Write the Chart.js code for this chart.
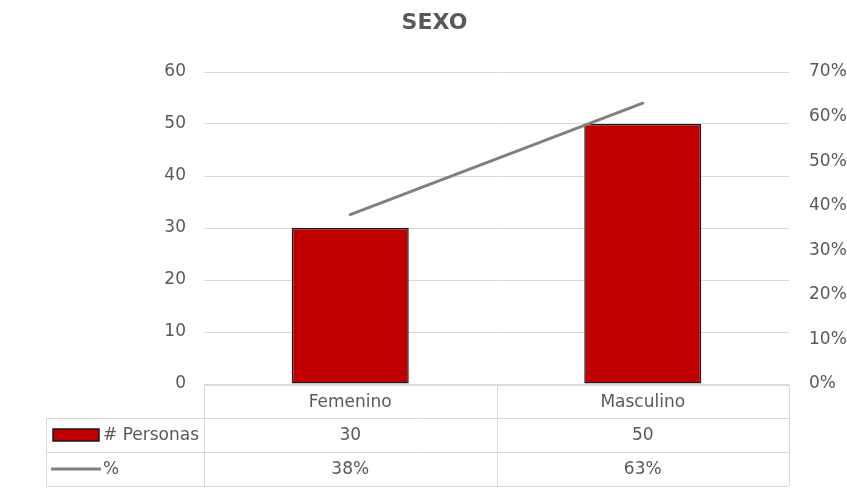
<!DOCTYPE html>
<html>
<head>
<meta charset="utf-8">
<title>SEXO</title>
<script src="https://cdn.jsdelivr.net/npm/chart.js@4/dist/chart.umd.min.js"></script>
<style>
  html, body { margin: 0; padding: 0; background: #ffffff; }
  canvas { display: block; }
</style>
</head>
<body>
<canvas id="chart" width="847" height="493"></canvas>
<script>
// Categories and series
const categories = ['Femenino', 'Masculino'];
const personas = [30, 50];          // # Personas
const porcentaje = [38, 63];        // % of total
const seriesNames = ['# Personas', '%'];

// Axis ranges
const leftMax = 60, leftStep = 10;
const rightMax = 70, rightStep = 10;

const textColor = '#595959';
const gridColor = '#d9d9d9';
const fontFamily = '"DejaVu Sans", sans-serif';
const pct = v => v + '%';

// Draws the data table under the plot, aligned to the category scale
const dataTablePlugin = {
  id: 'dataTable',
  afterDraw(chart) {
    const ctx = chart.ctx;
    const x = chart.scales.x;
    const area = chart.chartArea;
    const half = (x.getPixelForValue(1) - x.getPixelForValue(0)) / 2;
    const colEdges = [];
    for (let i = 0; i < categories.length; i++) colEdges.push(x.getPixelForValue(i) - half);
    colEdges.push(x.getPixelForValue(categories.length - 1) + half);
    const headLeft = 46;
    const rows = [area.bottom + 1, area.bottom + 34, area.bottom + 68, area.bottom + 102];

    ctx.save();
    ctx.strokeStyle = gridColor;
    ctx.lineWidth = 1;
    const hLine = (x0, x1, y) => { ctx.beginPath(); ctx.moveTo(x0, Math.round(y) + 0.5); ctx.lineTo(x1, Math.round(y) + 0.5); ctx.stroke(); };
    const vLine = (xx, y0, y1) => { ctx.beginPath(); ctx.moveTo(Math.round(xx) + 0.5, y0); ctx.lineTo(Math.round(xx) + 0.5, y1); ctx.stroke(); };
    const right = colEdges[colEdges.length - 1];
    hLine(colEdges[0], right, rows[0]);
    hLine(headLeft, right, rows[1]);
    hLine(headLeft, right, rows[2]);
    hLine(headLeft, right, rows[3]);
    colEdges.forEach(cx => vLine(cx, rows[0], rows[3]));
    vLine(headLeft, rows[1], rows[3]);

    ctx.fillStyle = textColor;
    ctx.font = '17px ' + fontFamily;
    ctx.textAlign = 'center';
    ctx.textBaseline = 'middle';
    const rowMid = r => (rows[r] + rows[r + 1]) / 2 + 1;
    categories.forEach((c, i) => {
      const cx = x.getPixelForValue(i);
      ctx.fillText(c, cx, rowMid(0));
      ctx.fillText(String(personas[i]), cx, rowMid(1));
      ctx.fillText(pct(porcentaje[i]), cx, rowMid(2));
    });

    // Legend keys in the row headers
    const barDs = chart.data.datasets[0];
    const lineDs = chart.data.datasets[1];
    const y1 = rowMid(1) - 1;
    ctx.fillStyle = barDs.backgroundColor;
    ctx.fillRect(53, y1 - 6, 46, 12);
    ctx.strokeStyle = barDs.borderColor;
    ctx.lineWidth = 1.5;
    ctx.strokeRect(53, y1 - 6, 46, 12);
    const y2 = rowMid(2) - 1;
    ctx.strokeStyle = lineDs.borderColor;
    ctx.lineWidth = lineDs.borderWidth;
    ctx.beginPath();
    ctx.moveTo(51, y2);
    ctx.lineTo(101, y2);
    ctx.stroke();

    ctx.fillStyle = textColor;
    ctx.textAlign = 'left';
    ctx.fillText(seriesNames[0], 103, rowMid(1));
    ctx.fillText(seriesNames[1], 103, rowMid(2));
    ctx.restore();
  }
};

new Chart(document.getElementById('chart'), {
  type: 'bar',
  data: {
    labels: categories,
    datasets: [
      {
        type: 'bar',
        label: seriesNames[0],
        data: personas,
        yAxisID: 'y',
        backgroundColor: '#c00000',
        borderColor: '#1a1a1a',
        borderWidth: 1.5,
        borderSkipped: false,
        categoryPercentage: 0.4,
        barPercentage: 1,
        order: 1
      },
      {
        type: 'line',
        label: seriesNames[1],
        data: porcentaje,
        yAxisID: 'y1',
        borderColor: '#808080',
        borderWidth: 3,
        borderCapStyle: 'round',
        pointRadius: 0,
        tension: 0,
        fill: false,
        order: 0
      }
    ]
  },
  options: {
    responsive: false,
    animation: false,
    devicePixelRatio: 1,
    layout: { padding: { left: 22, right: 0, top: 0, bottom: 109 } },
    plugins: {
      legend: { display: false },
      tooltip: { enabled: false },
      title: {
        display: true,
        text: 'SEXO',
        color: textColor,
        font: { family: fontFamily, size: 22, weight: 'bold', lineHeight: 1.2 },
        padding: { top: 10, bottom: 35.6 }
      }
    },
    scales: {
      x: {
        display: false,
        offset: true,
        grid: { display: false }
      },
      y: {
        position: 'left',
        min: 0,
        max: leftMax,
        border: { display: false },
        grid: { color: gridColor, lineWidth: 1, drawTicks: false },
        ticks: {
          stepSize: leftStep,
          padding: 18,
          color: textColor,
          font: { family: fontFamily, size: 17 }
        },
        afterFit(scale) { scale.width = 182; }
      },
      y1: {
        position: 'right',
        min: 0,
        max: rightMax,
        border: { display: false },
        grid: { display: false, drawTicks: false },
        ticks: {
          stepSize: rightStep,
          padding: 20,
          color: textColor,
          font: { family: fontFamily, size: 17 },
          callback: v => pct(v)
        },
        afterFit(scale) { scale.width = 58; }
      }
    }
  },
  plugins: [dataTablePlugin]
});
</script>
</body>
</html>
